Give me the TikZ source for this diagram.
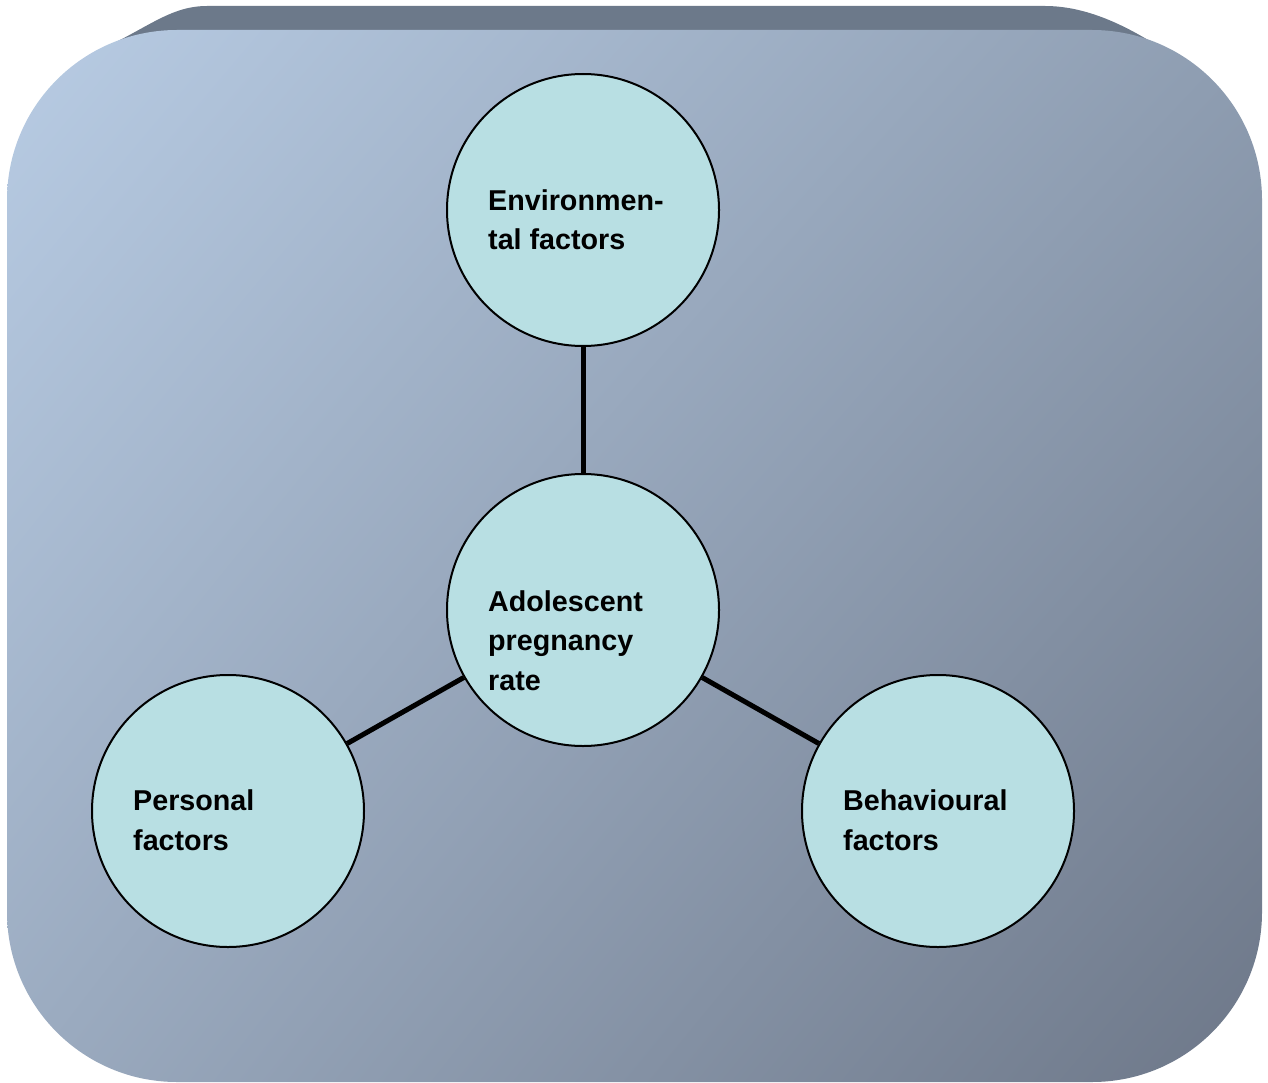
\documentclass[tikz,border=0pt]{standalone}
\usepackage{fontspec}
\setmainfont{Liberation Sans}
\usetikzlibrary{shadings}
\definecolor{bandc}{HTML}{6C798A}
\definecolor{ulc}{HTML}{B8CCE4}
\definecolor{urc}{HTML}{8E9DB1}
\definecolor{llc}{HTML}{9BABC0}
\definecolor{lrc}{HTML}{6D7788}
\definecolor{circc}{HTML}{B8DFE3}
\tikzset{
  factor/.style={circle, draw=black, line width=2pt, fill=circc, minimum size=272pt, inner sep=0pt},
  link/.style={line width=5pt, black},
  lbl/.style={anchor=base west, inner sep=0pt, align=left, font=\bfseries\fontsize{28.7}{39.5}\selectfont}
}
\begin{document}
\begin{tikzpicture}[x=1pt, y=-1pt]
\useasboundingbox (0,0) rectangle (1268,1083);
% top band (bevel)
\fill[bandc] (106,47) .. controls (150,26) and (172,6) .. (207,6) -- (1045,6)
  .. controls (1085,6) and (1125,24) .. (1167,52) -- (1167,250) -- (106,250) -- cycle;
% main rounded panel
\shade[upper left=ulc, upper right=urc, lower left=llc, lower right=lrc, rounded corners=170pt]
  (7,30) rectangle (1262,1082);
% circles
\node[factor] (env) at (583,210) {};
\node[factor] (ado) at (583,610) {};
\node[factor] (pers) at (228,811) {};
\node[factor] (beh) at (938,811) {};
% connectors
\draw[link] (env) -- (ado);
\draw[link] (ado) -- (pers);
\draw[link] (ado) -- (beh);
% labels (anchored at the baseline of the last line)
\node[lbl] (envt) at (488,250) {Environmen-\\tal factors};
\node[lbl] (adot) at (488,690) {Adolescent\\pregnancy\\rate};
\node[lbl] (perst) at (133,850) {Personal\\factors};
\node[lbl] (beht) at (843,850) {Behavioural\\factors};
\end{tikzpicture}
\end{document}
